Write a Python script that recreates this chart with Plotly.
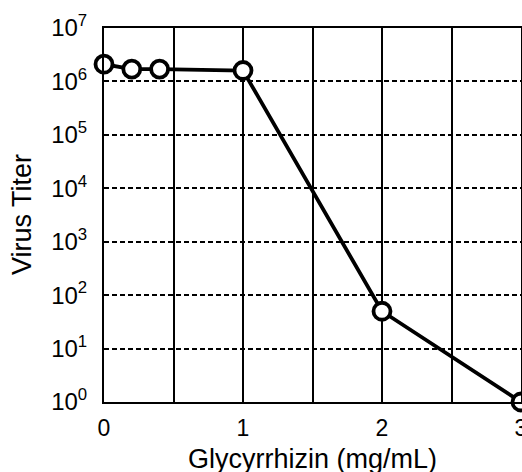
import plotly.graph_objects as go

concentration = [0, 0.2, 0.4, 1, 2, 3]
virus_titer = [2.1e6, 1.7e6, 1.7e6, 1.6e6, 50, 1]

x_tick_vals = [0, 0.5, 1, 1.5, 2, 2.5, 3]
x_tick_text = ["0", "", "1", "", "2", "", "3"]
y_tick_vals = [1, 10, 100, 1e3, 1e4, 1e5, 1e6, 1e7]
y_tick_text = ["10<sup>%d</sup>" % i for i in range(8)]

FONT = "Liberation Sans, Arial, Helvetica, sans-serif"

fig = go.Figure()
fig.add_trace(go.Scatter(
    x=concentration, y=virus_titer, mode="lines+markers",
    line=dict(color="black", width=3.8),
    marker=dict(size=17, color="white", line=dict(color="black", width=3.8)),
    cliponaxis=False, showlegend=False,
))

fig.update_layout(
    width=522, height=472,
    margin=dict(l=104, r=1, t=28, b=70),
    plot_bgcolor="white", paper_bgcolor="white",
    font=dict(family=FONT, size=24, color="black"),
    xaxis=dict(
        range=[0, 3], tickvals=x_tick_vals, ticktext=x_tick_text,
        showgrid=True, gridcolor="black", gridwidth=1.5,
        showline=True, linecolor="black", linewidth=2, mirror=True,
        ticks="", zeroline=False, tickfont=dict(size=23),
        ticklabelstandoff=4, ticklabeloverflow="allow", automargin=False,
    ),
    yaxis=dict(
        type="log", range=[0, 7], tickvals=y_tick_vals, ticktext=y_tick_text,
        showgrid=True, gridcolor="black", gridwidth=1.5, griddash="5px,3px",
        showline=True, linecolor="black", linewidth=2, mirror=True,
        ticks="", zeroline=False, tickfont=dict(size=24),
        ticklabelstandoff=10, automargin=False,
    ),
    annotations=[
        dict(text="Glycyrrhizin (mg/mL)", xref="paper", yref="paper",
             x=0.5, y=-(459 - 402) / 374, xanchor="center", yanchor="middle",
             showarrow=False, font=dict(size=27)),
        dict(text="Virus Titer", xref="paper", yref="paper",
             x=-(104 - 22) / 417, y=(402 - 215) / 374, xanchor="center", yanchor="middle",
             textangle=-90, showarrow=False, font=dict(size=27)),
    ],
)

fig.write_html("out.html", config={"displayModeBar": False},
               post_script="document.body.style.margin='0';document.body.style.overflow='hidden';")
